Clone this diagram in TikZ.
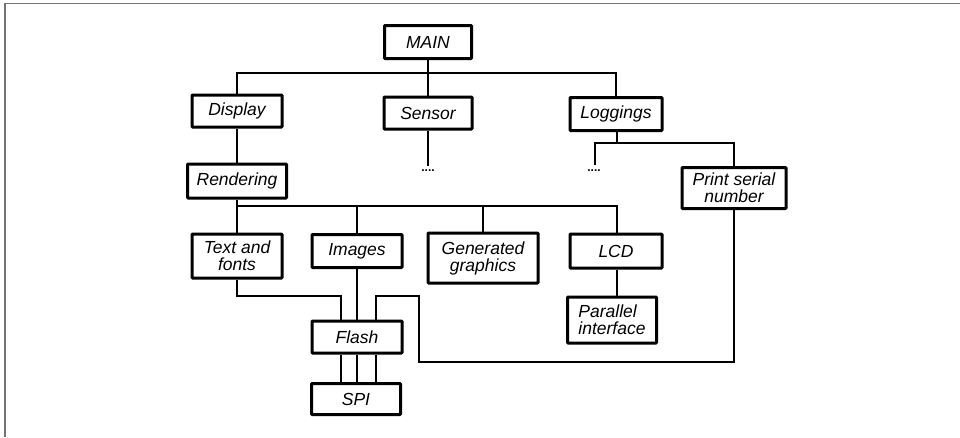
\documentclass[tikz,border=0pt]{standalone}
\usepackage{fontspec}
\setmainfont{Liberation Sans}
\begin{document}
\begin{tikzpicture}[x=1pt,y=-1pt,
  box/.style={draw=black,line width=3pt,fill=white,inner sep=0.5pt,
    align=center,font=\itshape\fontsize{17.5}{17}\selectfont,rounded corners=0.8pt},
  wire/.style={draw=black,line width=1.7pt},
  dots/.style={font=\bfseries\fontsize{12}{12}\selectfont,inner sep=0pt}]
\useasboundingbox (0,0) rectangle (960,437);
\draw[line width=1.3pt,color=black!55] (5,437) -- (5,3.5) -- (960,3.5);
% nodes
\node[box,minimum width=87,minimum height=33] (main) at (428,42) {MAIN};
\node[box,minimum width=90,minimum height=32] (display) at (237,111) {Display};
\node[box,minimum width=88,minimum height=32] (sensor) at (428,113) {Sensor};
\node[box,minimum width=92,minimum height=33] (loggings) at (616,114) {Loggings};
\node[box,minimum width=99,minimum height=34] (rendering) at (237,181) {Rendering};
\node[box,minimum width=104,minimum height=41] (print) at (734,188) {Print serial\\number};
\node[box,minimum width=90,minimum height=44] (text) at (237,256) {Text and\\fonts};
\node[box,minimum width=90,minimum height=33] (images) at (357,251) {Images};
\node[box,minimum width=110,minimum height=50] (generated) at (483,258) {Generated\\graphics};
\node[box,minimum width=92,minimum height=34] (lcd) at (616,251) {LCD};
\node[box,minimum width=89,minimum height=46,align=left] (parallel) at (612,320) {Parallel\\interface};
\node[box,minimum width=90,minimum height=32] (flash) at (357,337) {Flash};
\node[box,minimum width=89,minimum height=31] (spi) at (356,399) {SPI};
\node[dots] (sdots) at (428,171) {....};
\node[dots] (ldots) at (594,171) {....};
% coordinates
\coordinate (bus1) at (428,73);
\coordinate (sdend) at (428,166);
\coordinate (ldend) at (595,165);
\coordinate (bus3) at (617,143);
\coordinate (bus2) at (420,206);
\coordinate (fa) at (341,296);
\coordinate (fc1) at (419,362);
\coordinate (fc2) at (376,296);
% connectors
\draw[wire] (main.south) -- (sensor.north);
\draw[wire] (display.north) |- (bus1) -| (loggings.north);
\draw[wire] (sensor.south) -- (sdend);
\draw[wire] (display.south) -- (rendering.north);
\draw[wire] (loggings.south -| bus3) -- (bus3);
\draw[wire] (ldend) |- (bus3) -| (print.north);
\draw[wire] (rendering.south) -- (text.north);
\draw[wire] (text.north) |- (bus2) -| (lcd.north -| bus3);
\draw[wire] (images.north) -- (images.north |- bus2);
\draw[wire] (generated.north) -- (generated.north |- bus2);
\draw[wire] (lcd.south -| bus3) -- (parallel.north -| bus3);
\draw[wire] (text.south) |- (fa) -- (fa |- flash.north);
\draw[wire] (images.south) -- (flash.north);
\draw[wire] (print.south) |- (fc1) |- (fc2) -- (fc2 |- flash.north);
\draw[wire] (flash.south -| fa) -- (spi.north -| fa);
\draw[wire] (flash.south) -- (flash.south |- spi.north);
\draw[wire] (flash.south -| fc2) -- (spi.north -| fc2);
\end{tikzpicture}
\end{document}
